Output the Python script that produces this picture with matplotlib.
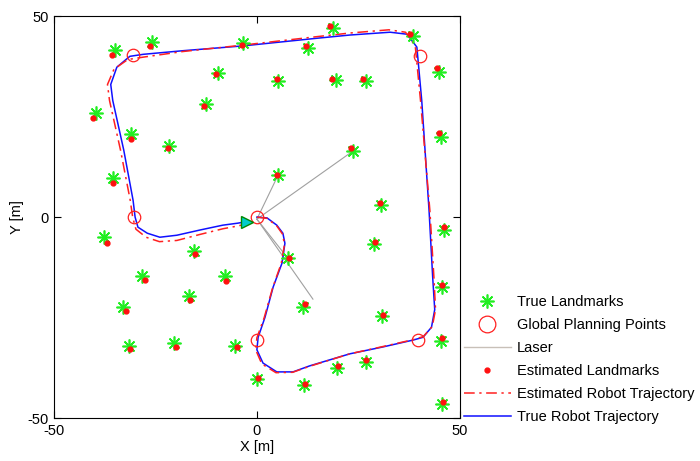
import numpy as np
import matplotlib
matplotlib.use('Agg')
import matplotlib.pyplot as plt
from matplotlib.lines import Line2D

plt.rcParams['font.family'] = ['Liberation Sans', 'DejaVu Sans']
plt.rcParams['font.size'] = 10.5
plt.rcParams['axes.unicode_minus'] = False

# true landmark positions [m]
lm_true_x = [-35.0, -25.9, -3.4, 12.6, 18.7, 38.4, 44.8, 45.3, -9.6, -12.6,
             -39.7, -31.0, -21.7, -35.5, 5.2, 19.5, 26.8, 23.6, 5.2, 30.5,
             46.0, 28.8, 7.6, 45.6, 11.3, 30.8, 45.3, 26.8, 19.7, 11.6,
             45.6, 0.0, -37.7, -15.5, -28.3, -7.9, -16.7, -33.0, -31.5, -20.4,
             -5.4]
lm_true_y = [41.5, 43.5, 43.3, 42.0, 47.0, 45.0, 36.0, 19.9, 35.8, 28.1,
             25.9, 20.6, 17.7, 9.7, 33.8, 34.0, 33.8, 16.4, 10.4, 3.0,
             -3.2, -6.7, -10.2, -17.4, -22.4, -24.6, -30.8, -36.1, -37.6, -41.8,
             -46.5, -40.3, -5.0, -8.5, -14.7, -14.7, -19.7, -22.4, -32.1, -31.3,
             -32.1]

# estimated landmark positions [m]
lm_est_x = [-35.6, -26.4, -3.6, 12.1, 18.0, 37.7, 44.3, 44.8, -10.1, -13.0,
            -40.4, -31.0, -21.9, -35.5, 4.9, 18.5, 26.1, 23.2, 4.9, 30.3,
            46.0, 29.0, 7.9, 45.6, 11.8, 31.0, 45.6, 26.9, 20.0, 11.8,
            45.8, 0.3, -37.0, -15.3, -27.6, -7.6, -16.5, -32.3, -31.3, -19.9,
            -4.9]
lm_est_y = [40.3, 42.5, 42.8, 42.6, 47.5, 45.5, 37.0, 21.0, 35.6, 27.6,
            24.6, 19.4, 17.2, 8.5, 34.3, 34.3, 34.3, 17.2, 10.4, 3.5,
            -2.5, -6.2, -10.2, -16.9, -21.6, -24.4, -30.1, -35.6, -37.0, -41.5,
            -46.0, -40.1, -6.5, -9.2, -15.7, -15.9, -20.6, -23.4, -32.8, -32.3,
            -32.3]

# global planning points [m]
gp_x = [-30.5, 40.1, -30.3, 0.0, 0.0, 39.7]
gp_y = [40.3, 40.0, 0.0, 0.0, -30.6, -30.6]

# true robot trajectory [m]
traj_true_x = [0.0, 2.5, 4.9, 6.4, 6.9, 6.2, 4.0, 2.0, 0.3, 0.0, 1.5, 4.9, 8.9,
               13.0, 22.9, 31.0, 38.4, 40.9, 43.0, 43.8, 43.3, 42.4, 40.6, 39.4,
               37.0, 32.8, 22.9, 14.8, -3.4, -18.2, -28.0, -31.3, -34.5, -36.0,
               -35.5, -32.8, -30.5, -30.0, -29.3, -27.0, -23.9, -19.7, -14.0,
               -8.4, -4.7, -3.0]
traj_true_y = [0.0, -0.2, -2.0, -4.0, -6.5, -11.4, -17.4, -24.9, -29.9, -33.0,
               -36.3, -38.5, -38.5, -37.0, -34.0, -32.3, -30.6, -29.9, -27.4,
               -23.0, -15.0, 1.7, 29.0, 42.3, 45.5, 46.0, 45.3, 44.5, 42.6, 41.4,
               40.5, 40.0, 37.3, 33.0, 29.0, 16.7, 4.2, 0.0, -2.5, -4.0, -5.0,
               -4.5, -3.2, -2.0, -1.5, -1.2]

# estimated robot trajectory [m]
traj_est_x = [0.0, 2.5, 4.9, 6.3, 6.8, 6.0, 3.9, 1.8, 0.0, -0.3, 1.2, 4.7, 8.8,
              13.0, 22.9, 31.0, 38.4, 41.0, 43.2, 44.0, 43.6, 42.6, 40.3, 39.0,
              36.6, 32.5, 22.9, 14.8, -3.4, -18.2, -28.0, -31.8, -35.2, -36.8,
              -36.3, -33.6, -31.2, -30.6, -29.8, -27.3, -24.0, -19.7, -14.0,
              -8.4, -4.7, -3.0]
traj_est_y = [0.0, -0.3, -2.2, -4.2, -6.8, -11.5, -17.5, -25.0, -30.0, -33.0,
              -36.5, -38.7, -38.6, -37.1, -34.0, -32.2, -30.5, -29.7, -27.2,
              -23.0, -15.0, 1.7, 29.0, 42.6, 46.0, 46.6, 45.8, 44.9, 42.8, 41.2,
              39.8, 39.2, 36.8, 33.0, 29.0, 16.7, 4.2, 0.0, -3.0, -5.0, -6.1,
              -5.8, -4.3, -2.9, -2.2, -1.8]

# laser rays: origin and end points [m]
laser_origin = (0.0, -0.5)
laser_end_x = [5.2, 23.6, 7.6, 13.8]
laser_end_y = [10.4, 16.4, -10.2, -20.4]

# current robot pose
robot_x = -2.5
robot_y = -1.2

star = (8, 2, 0)

fig = plt.figure(figsize=(7.0, 4.61), dpi=100)
ax = fig.add_axes([0.077, 0.093, 0.58, 0.872])

for ex, ey in zip(laser_end_x, laser_end_y):
    ax.plot([laser_origin[0], ex], [laser_origin[1], ey], color='#a0a0a0', linewidth=0.8)

ax.plot(traj_true_x, traj_true_y, color='#1010ff', linewidth=1.1)
ax.plot(traj_est_x, traj_est_y, color='#ff2020', linewidth=1.1, linestyle=(0, (7, 3, 1.5, 3)))

ax.plot(lm_true_x, lm_true_y, linestyle='none', marker=star, markersize=10,
        markeredgecolor='#22ee22', markeredgewidth=1.2)
ax.plot(lm_est_x, lm_est_y, linestyle='none', marker='o', markersize=3.5,
        markerfacecolor='#ff1010', markeredgecolor='#ff1010')
ax.plot(gp_x, gp_y, linestyle='none', marker='o', markersize=9,
        markerfacecolor='none', markeredgecolor='#ff2020', markeredgewidth=0.9)

ax.plot([robot_x], [robot_y], linestyle='none', marker='>', markersize=8,
        markerfacecolor='#00cccc', markeredgecolor='#008800', markeredgewidth=1.0)

ax.set_xlim(-50, 50)
ax.set_ylim(-50, 50)
ax.set_xticks([-50, 0, 50])
ax.set_yticks([-50, 0, 50])
ax.tick_params(direction='in', top=True, right=True, length=5, width=0.8, pad=4)
for s in ax.spines.values():
    s.set_linewidth(0.8)
ax.set_xlabel('X [m]', labelpad=2)
ax.set_ylabel('Y [m]', labelpad=2)

handles = [
    Line2D([], [], linestyle='none', marker=star, markersize=10,
           markeredgecolor='#22ee22', markeredgewidth=1.2),
    Line2D([], [], linestyle='none', marker='o', markersize=12,
           markerfacecolor='none', markeredgecolor='#ff2020', markeredgewidth=0.9),
    Line2D([], [], color='#c8c0b8', linewidth=1.0),
    Line2D([], [], linestyle='none', marker='o', markersize=3.5,
           markerfacecolor='#ff1010', markeredgecolor='#ff1010'),
    Line2D([], [], color='#ff2020', linewidth=1.1, linestyle=(0, (7, 3, 1.5, 3))),
    Line2D([], [], color='#1010ff', linewidth=1.1),
]
labels = ['True Landmarks', 'Global Planning Points', 'Laser',
          'Estimated Landmarks', 'Estimated Robot Trajectory', 'True Robot Trajectory']
fig.legend(handles, labels, loc='lower left', bbox_to_anchor=(0.663, 0.08),
           frameon=False, handlelength=3.2, handletextpad=0.4, labelspacing=0.62,
           borderpad=0.0, borderaxespad=0.0)

fig.savefig('out.png', dpi=100)
